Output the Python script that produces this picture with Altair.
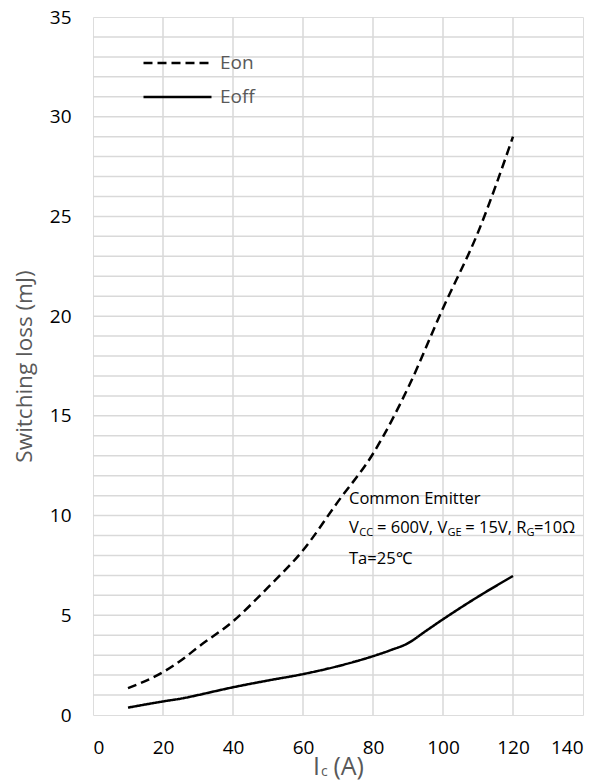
import altair as alt
import pandas as pd

# ---- data ----
ic_on = [10, 20, 26, 30, 40, 50, 60, 70, 80, 90, 100, 110, 120]
eon = [1.35, 2.15, 2.85, 3.4, 4.7, 6.4, 8.26, 10.7, 13.1, 16.4, 20.4, 24.2, 29.0]
ic_off = [10, 20, 26, 30, 40, 50, 60, 70, 80, 85, 90, 95, 100, 110, 120]
eoff = [0.37, 0.68, 0.85, 1.0, 1.39, 1.73, 2.05, 2.45, 2.95, 3.25, 3.6, 4.2, 4.8, 5.93, 6.97]
series = ["Eon", "Eoff"]
x_ticks = [0, 20, 40, 60, 80, 100, 120, 140]
y_ticks = [0, 5, 10, 15, 20, 25, 30, 35]
x_grid = [20, 40, 60, 80, 100, 120]
y_grid = [1, 2, 3, 4, 5, 6, 7, 8, 9, 10, 11, 12, 13, 14, 15, 16, 17, 18, 19, 20,
          21, 22, 23, 24, 25, 26, 27, 28, 29, 30, 31, 32, 33, 34]

note_line1 = "Common Emitter"
note_line2 = [("V", False), ("CC", True), (" = 600V, V", False), ("GE", True),
              (" = 15V, R", False), ("G", True), ("=10Ω", False)]
note_line3 = "Ta=25℃"
y_title = "Switching loss (mJ)"
x_title = [("I", False), ("c", True), (" (A)", False)]

# ---- layout constants ----
W, H = 490, 698
X_MAX, Y_MAX = 140, 35
FONT = "Open Sans"
GRAY = "#595959"

xs = alt.Scale(domain=[0, X_MAX], nice=False, zero=False)
ys = alt.Scale(domain=[0, Y_MAX], nice=False, zero=False)
xax = alt.Axis(values=x_ticks, grid=False, ticks=False, tickSize=0, domain=False,
               labelFont=FONT, labelFontSize=19, labelColor="black", labelPadding=23,
               title=None)
yax = alt.Axis(values=y_ticks, grid=False, ticks=False, tickSize=0, domain=False,
               labelFont=FONT, labelFontSize=19, labelColor="black", labelPadding=22,
               title=y_title, titleFont=FONT, titleFontSize=22.5, titleColor=GRAY,
               titleFontWeight="normal", titlePadding=13)

df = pd.DataFrame({
    "ic": ic_on + ic_off,
    "val": eon + eoff,
    "series": ["Eon"] * len(ic_on) + ["Eoff"] * len(ic_off),
})

# grid
hgrid = alt.Chart(pd.DataFrame({"val": y_grid})).mark_rule(
    color="#d9d9d9", strokeWidth=1.5).encode(y=alt.Y("val:Q", scale=ys, axis=yax))
vgrid = alt.Chart(pd.DataFrame({"ic": x_grid})).mark_rule(
    color="#d9d9d9", strokeWidth=1.5).encode(x=alt.X("ic:Q", scale=xs, axis=xax))

# legend: a wide horizontal stroke drawn as a custom symbol path
SYM_UNIT = 22.67                # sqrt(symbolSize); path spans -3..3 units -> 68 px
lines = alt.Chart(df).mark_line(color="black", strokeWidth=2.5, interpolate="monotone").encode(
    x=alt.X("ic:Q", scale=xs, axis=xax),
    y=alt.Y("val:Q", scale=ys, axis=yax),
    strokeDash=alt.StrokeDash(
        "series:N",
        scale=alt.Scale(domain=series, range=[[9, 5], [1, 0]]),
        sort=series,
        legend=alt.Legend(orient="none", legendX=71.5, legendY=33, title=None,
                          symbolType="M-3,0H3", symbolSize=SYM_UNIT ** 2,
                          symbolStrokeWidth=2.5, symbolStrokeColor="black",
                          symbolFillColor="transparent",
                          labelFont=FONT, labelFontSize=19, labelColor=GRAY,
                          labelOffset=29.5, rowPadding=11, padding=0),
    ),
)

# ---- annotation text (segments with subscripts) ----
OS_W = {'V': .592, 'C': .634, 'G': .718, 'E': .556, 'R': .613, ' ': .26, '=': .572,
        ',': .245, 'Ω': .70, 'I': .279, 'c': .495, '(': .303, ')': .303, 'A': .633}
for d in "0123456789":
    OS_W[d] = .572


def seg_positions(segs, x0_px, size, sub_size):
    """Left edge (px) of each text segment; leading spaces become offsets."""
    out, px = [], x0_px
    for txt, sub in segs:
        fs = sub_size if sub else size
        stripped = txt.lstrip(" ")
        px += (len(txt) - len(stripped)) * OS_W[' '] * fs
        out.append((px, stripped, sub))
        px += sum(OS_W.get(ch, .55) for ch in stripped) * fs
    return out


ANN_SIZE, ANN_SUB = 16.5, 11
ann_x0_px = 256
px_per_y = H / Y_MAX
rows_main, rows_sub = [], []
rows_main.append({"tx": ann_x0_px * X_MAX / W, "ty": 10.82, "t": note_line1})
rows_main.append({"tx": ann_x0_px * X_MAX / W, "ty": 7.81, "t": note_line3})
for px, txt, sub in seg_positions(note_line2, ann_x0_px, ANN_SIZE, ANN_SUB):
    (rows_sub if sub else rows_main).append(
        {"tx": (px + (0.5 if sub else 0)) * X_MAX / W,
         "ty": 9.36 - (4.5 / px_per_y if sub else 0), "t": txt})

ann_main = alt.Chart(pd.DataFrame(rows_main)).mark_text(
    align="left", baseline="middle", font=FONT, fontSize=ANN_SIZE, color="black").encode(
    x=alt.X("tx:Q", scale=xs, axis=xax), y=alt.Y("ty:Q", scale=ys, axis=yax), text="t:N")
ann_sub = alt.Chart(pd.DataFrame(rows_sub)).mark_text(
    align="left", baseline="middle", font=FONT, fontSize=ANN_SUB, color="black").encode(
    x=alt.X("tx:Q", scale=xs, axis=xax), y=alt.Y("ty:Q", scale=ys, axis=yax), text="t:N")

# ---- x-axis title with subscript ----
XT_SIZE, XT_SUB = 25, 14
xt_main, xt_sub = [], []
for px, txt, sub in seg_positions(x_title, 220, XT_SIZE, XT_SUB):
    (xt_sub if sub else xt_main).append(
        {"tx": (px + (1 if sub else 0)) * X_MAX / W,
         "ty": -(52 + (5 if sub else 0)) / px_per_y, "t": txt})

xt1 = alt.Chart(pd.DataFrame(xt_main)).mark_text(
    align="left", baseline="middle", font=FONT, fontSize=XT_SIZE, color=GRAY).encode(
    x=alt.X("tx:Q", scale=xs, axis=xax), y=alt.Y("ty:Q", scale=ys, axis=yax), text="t:N")
xt2 = alt.Chart(pd.DataFrame(xt_sub)).mark_text(
    align="left", baseline="middle", font=FONT, fontSize=XT_SUB, color=GRAY).encode(
    x=alt.X("tx:Q", scale=xs, axis=xax), y=alt.Y("ty:Q", scale=ys, axis=yax), text="t:N")

chart = alt.layer(hgrid, vgrid, lines, ann_main, ann_sub, xt1, xt2).properties(
    width=W, height=H,
    autosize=alt.AutoSizeParams(type="none"),
    padding={"left": 85, "top": 9, "right": 16, "bottom": 66},
).configure_view(stroke="black", strokeWidth=2).configure(background="white")

chart.save("out.html", embed_options={"renderer": "svg", "actions": False})
